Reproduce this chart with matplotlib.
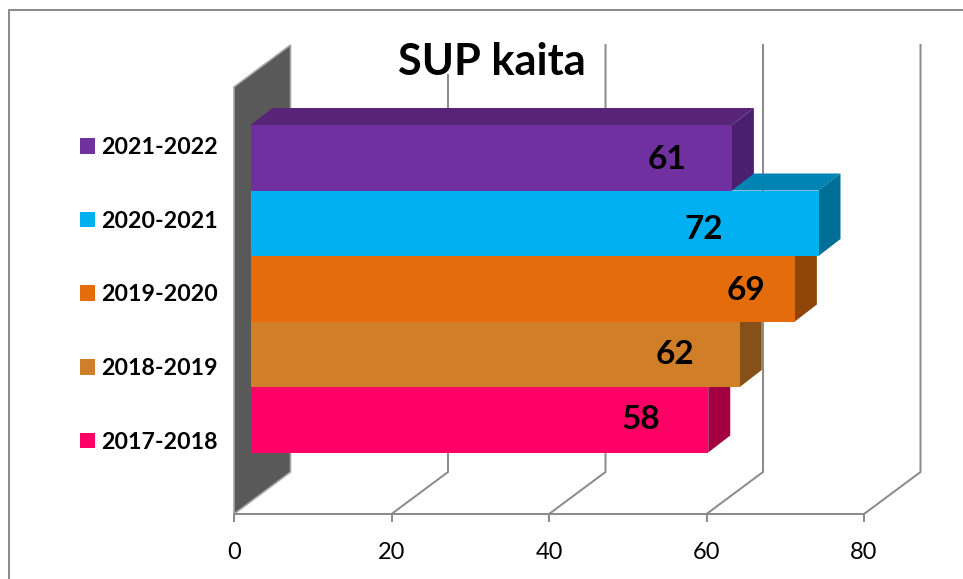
import matplotlib
matplotlib.use("Agg")
import matplotlib.pyplot as plt
from matplotlib.patches import Polygon, Patch
from matplotlib.lines import Line2D

seasons = ["2017-2018", "2018-2019", "2019-2020", "2020-2021", "2021-2022"]
values = [58, 62, 69, 72, 61]
front_colors = ["#FF0066", "#D07F28", "#E46C0A", "#00B0F0", "#7030A0"]
top_colors = ["#B80049", "#96601F", "#A65007", "#0084B4", "#572478"]
side_colors = ["#A30041", "#855118", "#8F4506", "#006F98", "#4B1F6F"]
label_shift = [-8.5, -8.25, -6.2, -14.6, -8.25]  # value units, hand-placed labels in the source
label_rise = [0.0, -0.01, -0.02, -0.1, -0.02]
ticks = [0, 20, 40, 60, 80]

W, H = 963, 579
X0, X80, Y_AX, Y_TOP = 234, 864, 514, 45
BAR_PX = 65.5
CENTER0 = 419.75
FONT = "Lato"
GRID = "#8C8C8C"

fig = plt.figure(figsize=(W / 100, H / 100), dpi=100, facecolor="white")
ax = fig.add_axes([X0 / W, 1 - Y_AX / H, (X80 - X0) / W, (Y_AX - Y_TOP) / H])
ax.set_xlim(0, 80)
ax.set_ylim(-(Y_AX - CENTER0) / BAR_PX, (CENTER0 - Y_TOP) / BAR_PX)
ymin, ymax = ax.get_ylim()

ux = (X80 - X0) / 80
wall_dx, wall_dy = 56.5 / ux, 42 / BAR_PX
bar_dx, bar_dy = 22 / ux, 17 / BAR_PX
bar_left = 16.5 / ux
bar_extra = 1.0 / ux

# back wall and gridlines
ax.add_patch(Polygon([(0, ymin), (wall_dx, ymin + wall_dy), (wall_dx, ymax), (0, ymax - wall_dy)],
                     closed=True, facecolor="#595959", edgecolor="#A6A6A6", lw=1.2,
                     clip_on=False, zorder=1))
for t in ticks[1:]:
    ax.plot([t, t + wall_dx, t + wall_dx], [ymin, ymin + wall_dy, ymax],
            color=GRID, lw=1.45, clip_on=False, zorder=1, solid_joinstyle="miter")

# bars
for i, (v, fc, tc, sc) in enumerate(zip(values, front_colors, top_colors, side_colors)):
    z = 3 + i
    x1 = bar_left + v + bar_extra
    y_lo, y_hi = i - 0.5, i + 0.5
    ax.add_patch(Polygon([(bar_left, y_hi), (bar_left + bar_dx, y_hi + bar_dy),
                          (x1 + bar_dx, y_hi + bar_dy), (x1, y_hi)],
                         closed=True, facecolor=tc, edgecolor="none", clip_on=False, zorder=z))
    ax.add_patch(Polygon([(x1, y_lo), (x1 + bar_dx, y_lo + bar_dy),
                          (x1 + bar_dx, y_hi + bar_dy), (x1, y_hi)],
                         closed=True, facecolor=sc, edgecolor="none", clip_on=False, zorder=z))
    ax.barh(i, v + bar_extra, height=1.0, left=bar_left, color=fc, zorder=z, clip_on=False)

# value labels
for i, v in enumerate(values):
    ax.text(bar_left + v + bar_extra + label_shift[i], i + label_rise[i], str(v),
            ha="center", va="center", fontsize=24, fontweight="bold",
            family=FONT, color="black", zorder=20)

# axes
for s in ("top", "left", "right"):
    ax.spines[s].set_visible(False)
ax.spines["bottom"].set_color(GRID)
ax.spines["bottom"].set_linewidth(1.45)
ax.patch.set_visible(False)
ax.set_yticks([])
ax.set_xticks(ticks)
ax.tick_params(axis="x", length=5.8, width=1.45, color=GRID, pad=14.5, labelsize=17)
for lab in ax.get_xticklabels():
    lab.set_family(FONT)

# legend
handles = [Patch(facecolor=c, edgecolor="none") for c in reversed(front_colors)]
leg = fig.legend(handles, list(reversed(seasons)), loc="upper left",
                 bbox_to_anchor=(80 / W, 1 - 137 / H), frameon=False,
                 prop={"family": FONT, "weight": "bold", "size": 16.7},
                 handlelength=0.645, handleheight=0.645, handletextpad=0.25,
                 labelspacing=2.27, borderpad=0, borderaxespad=0)

# title
fig.text(491.5 / W, 1 - 62 / H, "SUP kaita", ha="center", va="center", fontsize=31.2,
         fontweight="bold", family=FONT, color="black", zorder=30,
         bbox=dict(boxstyle="square,pad=-0.18", facecolor="white", edgecolor="none"))

# chart frame (runs off the picture at right and bottom)
fig.add_artist(Line2D([8.5 / W, 8.5 / W, 1], [0, 1 - 10 / H, 1 - 10 / H],
                      color=GRID, lw=1.45, solid_joinstyle="miter"))

fig.savefig("out.png", dpi=100, facecolor="white")
